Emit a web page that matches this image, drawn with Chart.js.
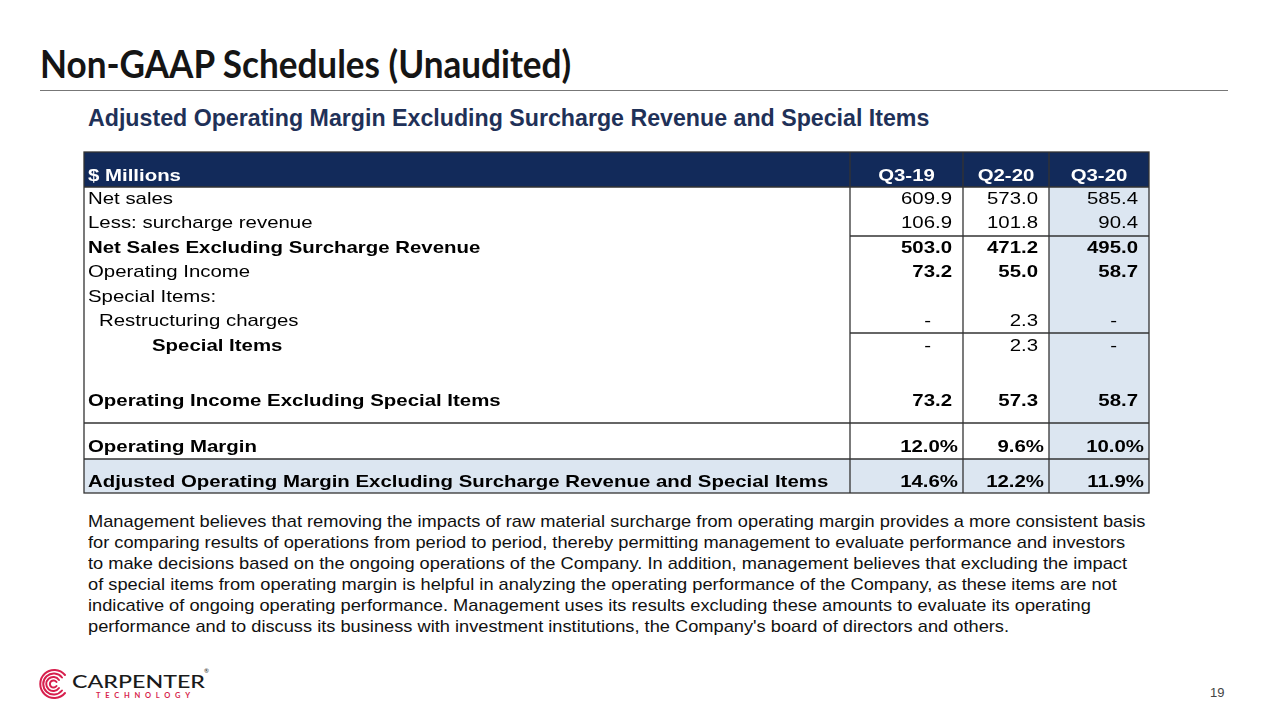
<!DOCTYPE html>
<html>
<head>
<meta charset="utf-8">
<script src="https://cdn.jsdelivr.net/npm/chart.js@4/dist/chart.umd.min.js"></script>
<style>
  body { margin: 0; width: 1280px; height: 720px; background: #fff; position: relative; overflow: hidden; font-family: "Liberation Sans", Arial, sans-serif; }
  .abs { position: absolute; white-space: nowrap; }
  #title { left: 40px; top: 44px; font: 700 39px/39px Lato, sans-serif; color: #151515; transform: scaleX(0.9); transform-origin: 0 0; }
  #rule { left: 40px; top: 90px; width: 1188px; height: 1px; background: #777; }
  #subtitle { left: 88px; top: 107px; font: 700 23.2px/23px "Liberation Sans", sans-serif; color: #1f3158; }
  #note { left: 88px; top: 511px; font: 17px/21px "Liberation Sans", sans-serif; color: #111; transform: scaleX(1.073); transform-origin: 0 0; }
  #page { left: 1210px; top: 686px; font: 13px/13px "Liberation Sans", sans-serif; color: #444; }
  #table { position: absolute; left: 80px; top: 148px; }
</style>
</head>
<body>
<div class="abs" id="title">Non-GAAP Schedules (Unaudited)</div>
<div class="abs" id="rule"></div>
<div class="abs" id="subtitle">Adjusted Operating Margin Excluding Surcharge Revenue and Special Items</div>
<canvas id="table" width="1074" height="350"></canvas>
<div class="abs" id="note">Management believes that removing the impacts of raw material surcharge from operating margin provides a more consistent basis<br>for comparing results of operations from period to period, thereby permitting management to evaluate performance and investors<br>to make decisions based on the ongoing operations of the Company. In addition, management believes that excluding the impact<br>of special items from operating margin is helpful in analyzing the operating performance of the Company, as these items are not<br>indicative of ongoing operating performance. Management uses its results excluding these amounts to evaluate its operating<br>performance and to discuss its business with investment institutions, the Company's board of directors and others.</div>
<div class="abs" id="page">19</div>

<svg class="abs" style="left:36px;top:662px" width="200" height="44" viewBox="0 0 200 44">
  <g fill="none" stroke="#d71f4d" stroke-width="2" stroke-linecap="round">
    <path d="M29 13 A14 14 0 1 0 29 31"/>
    <path d="M26 15.5 A10.5 10.5 0 1 0 26 28.5"/>
    <path d="M23 18 A7 7 0 1 0 23 26"/>
    <path d="M20.5 20 A3.6 3.6 0 1 0 20.5 24"/>
  </g>
  <text x="36" y="26" font-family="Lato, sans-serif" font-size="18" font-weight="500" fill="#1a1a1a" textLength="133" lengthAdjust="spacingAndGlyphs">CARPENTER</text>
  <text x="168" y="11" font-family="Lato, sans-serif" font-size="6" fill="#1a1a1a">®</text>
  <text x="60" y="35.5" font-family="Lato, sans-serif" font-size="7.5" font-weight="700" fill="#d71f4d" textLength="94" lengthAdjust="spacing">TECHNOLOGY</text>
</svg>

<script>
// table content
const headerLabel = '$ Millions';
const periods = ['Q3-19', 'Q2-20', 'Q3-20'];
const rowLabels = [
  'Net sales',
  'Less: surcharge revenue',
  'Net Sales Excluding Surcharge Revenue',
  'Operating Income',
  'Special Items:',
  'Restructuring charges',
  'Special Items',
  '',
  'Operating Income Excluding Special Items',
  'Operating Margin',
  'Adjusted Operating Margin Excluding Surcharge Revenue and Special Items'
];
const q3_19 = [609.9, 106.9, 503.0, 73.2, null, 0, 0, null, 73.2, 12.0, 14.6];
const q2_20 = [573.0, 101.8, 471.2, 55.0, null, 2.3, 2.3, null, 57.3, 9.6, 12.2];
const q3_20 = [585.4, 90.4, 495.0, 58.7, null, 0, 0, null, 58.7, 10.0, 11.9];

// layout / style (not data)
const colWidths = [766, 113, 86, 100];
const rowHeights = [35, 24, 25, 24, 25, 24, 24, 25, 25, 40, 36, 34]; // header first
const textOffset = [24, 12, 12, 12, 12, 12, 12, 13, 0, 18, 24, 23];
const labelBold = [0, 0, 1, 0, 0, 0, 1, 0, 1, 1, 1];
const valueBold = [0, 0, 1, 1, 0, 0, 0, 0, 1, 1, 1];
const indent = [0, 0, 0, 0, 0, 11, 64, 0, 0, 0, 0];
const isPct = [0, 0, 0, 0, 0, 0, 0, 0, 0, 1, 1];

const NAVY = '#122a5a';
const LIGHT = '#dce6f1';
const LINE = '#333';
const FONT_PX = 17;
const STRETCH = 1.2;

const colEdges = [0];
colWidths.forEach(w => colEdges.push(colEdges[colEdges.length - 1] + w));
const rowEdges = [0];
rowHeights.forEach(h => rowEdges.push(rowEdges[rowEdges.length - 1] + h));
const totalW = colEdges[colEdges.length - 1];
const totalH = rowEdges[rowEdges.length - 1];

function fmt(v, pct) {
  if (v === null) return '';
  if (v === 0) return '-';
  return v.toFixed(1) + (pct ? '%' : '');
}

function drawText(ctx, text, px, py, align, bold, color) {
  ctx.save();
  ctx.translate(px, py);
  ctx.scale(STRETCH, 1);
  ctx.font = (bold ? 'bold ' : '') + FONT_PX + 'px "Liberation Sans", Arial, sans-serif';
  ctx.fillStyle = color;
  ctx.textAlign = align;
  ctx.textBaseline = 'middle';
  ctx.fillText(text, 0, 0);
  ctx.restore();
}

const tablePlugin = {
  id: 'tablePlugin',
  afterDraw(chart) {
    const ctx = chart.ctx;
    const x = chart.scales.x, y = chart.scales.y;
    const X = v => x.getPixelForValue(v);
    const Y = v => y.getPixelForValue(v);
    const series = [q3_19, q2_20, q3_20];

    // fills
    ctx.fillStyle = NAVY;
    ctx.fillRect(X(0), Y(0), X(totalW) - X(0), Y(rowEdges[1]) - Y(0));
    ctx.fillStyle = LIGHT;
    ctx.fillRect(X(colEdges[3]), Y(rowEdges[1]), X(colEdges[4]) - X(colEdges[3]), Y(totalH) - Y(rowEdges[1]));
    const last = rowHeights.length - 1;
    ctx.fillRect(X(0), Y(rowEdges[last]), X(totalW) - X(0), Y(totalH) - Y(rowEdges[last]));

    // grid lines
    ctx.strokeStyle = LINE;
    ctx.lineWidth = 1.3;
    const hline = (r, c0) => {
      ctx.beginPath();
      ctx.moveTo(X(colEdges[c0]), Y(rowEdges[r]));
      ctx.lineTo(X(totalW), Y(rowEdges[r]));
      ctx.stroke();
    };
    [1, 10, 11].forEach(r => hline(r, 0));
    [3, 7].forEach(r => hline(r, 1));
    [1, 2, 3].forEach(c => {
      ctx.beginPath();
      ctx.moveTo(X(colEdges[c]), Y(0));
      ctx.lineTo(X(colEdges[c]), Y(totalH));
      ctx.stroke();
    });
    ctx.strokeRect(X(0), Y(0), X(totalW) - X(0), Y(totalH) - Y(0));

    // header text
    const hy = Y(rowEdges[0] + textOffset[0]);
    drawText(ctx, headerLabel, X(4), hy, 'left', true, '#fff');
    periods.forEach((p, i) => {
      drawText(ctx, p, X((colEdges[i + 1] + colEdges[i + 2]) / 2), hy, 'center', true, '#fff');
    });

    // body rows
    rowLabels.forEach((label, i) => {
      const r = i + 1;
      const ty = Y(rowEdges[r] + textOffset[r]);
      if (label) drawText(ctx, label, X(4 + indent[i]), ty, 'left', labelBold[i], '#000');
      series.forEach((s, c) => {
        const txt = fmt(s[i], isPct[i]);
        if (!txt) return;
        const pad = txt === '-' ? 32 : (isPct[i] ? 5 : 11);
        drawText(ctx, txt, X(colEdges[c + 2]) - pad, ty, 'right', valueBold[i], '#000');
      });
    });
  }
};

new Chart(document.getElementById('table'), {
  type: 'scatter',
  data: { datasets: [] },
  options: {
    responsive: false,
    animation: false,
    layout: { padding: { left: 4, top: 4, right: 5, bottom: 5 } },
    plugins: { legend: { display: false }, tooltip: { enabled: false } },
    scales: {
      x: { type: 'linear', min: 0, max: totalW, display: false },
      y: { type: 'linear', min: 0, max: totalH, reverse: true, display: false }
    }
  },
  plugins: [tablePlugin]
});
</script>
</body>
</html>
